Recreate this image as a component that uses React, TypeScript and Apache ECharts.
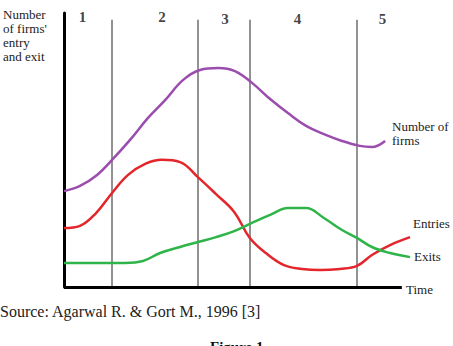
import React, { useEffect, useRef } from "react";
import * as echarts from "echarts";

// Time on a 0–100 scale, level on a 0–100 scale
const numberOfFirms: [number, number][] = [
  [0, 35.0], [4.5, 36.9], [9.3, 40.9], [13.5, 46.4], [18.5, 53.6], [23.6, 61.7],
  [28.4, 68.2], [33.4, 75.5], [38.2, 79.2], [43.3, 79.9], [48.0, 78.8], [52.8, 74.5],
  [57.9, 68.6], [62.9, 63.5], [68.0, 58.8], [73.0, 55.8], [78.1, 53.3], [83.1, 51.5],
  [86.5, 51.1], [90.2, 53.3],
];
const entries: [number, number][] = [
  [0, 21.5], [4.5, 22.3], [9.0, 27.0], [13.5, 34.3], [18.0, 40.9], [22.8, 44.9],
  [27.5, 46.4], [32.6, 45.6], [37.6, 40.1], [42.7, 33.9], [47.8, 27.4], [52.2, 17.9],
  [56.7, 12.4], [61.8, 8.0], [66.9, 6.6], [71.9, 6.2], [77.5, 6.6], [82.3, 7.7],
  [86.5, 11.7], [91.6, 15.3], [97.2, 18.2],
];
const exits: [number, number][] = [
  [0, 8.8], [7.3, 8.8], [17.1, 8.8], [22.2, 9.5], [27.0, 12.4], [32.6, 14.6],
  [37.6, 16.4], [42.7, 18.2], [47.8, 20.4], [52.8, 23.4], [57.9, 26.3], [62.9, 28.8],
  [68.0, 28.8], [73.0, 25.2], [78.1, 20.8], [82.3, 17.9], [86.5, 14.6], [91.6, 12.4],
  [97.2, 10.9],
];
const stageBoundaries = [13.5, 37.6, 52.2, 82.3];
const stageLabels = ["1", "2", "3", "4", "5"];
const stageLabelX = [5.2, 27.5, 45.2, 65.6, 89.5];
const stageLabelY = [98.5, 98.5, 97.8, 97.8, 97.8];
const timeAxisEnd = 94.9;
const boundaryTop = 97.5;

const SERIF = "'Liberation Serif', 'DejaVu Serif', serif";

export default function App() {
  const ref = useRef<HTMLDivElement>(null);

  useEffect(() => {
    if (!ref.current) return;
    const chart = echarts.init(ref.current, null, { renderer: "svg" });

    const curve = (name: string, data: [number, number][], color: string) => ({
      name,
      type: "line",
      data,
      smooth: 0.4,
      showSymbol: false,
      symbol: "none",
      clip: false,
      lineStyle: { color, width: 2.5 },
      z: 5,
    });

    chart.setOption({
      animation: false,
      backgroundColor: "#ffffff",
      grid: { left: 64, top: 13, width: 356, height: 274 },
      xAxis: {
        type: "value",
        min: 0,
        max: 100,
        show: false,
      },
      yAxis: {
        type: "value",
        min: 0,
        max: 100,
        axisLine: { show: true, onZero: false, lineStyle: { color: "#000", width: 3 } },
        axisTick: { show: false },
        axisLabel: { show: false },
        splitLine: { show: false },
      },
      series: [
        {
          name: "frame",
          type: "line",
          data: [],
          markLine: {
            silent: true,
            symbol: "none",
            label: { show: false },
            data: [
              ...stageBoundaries.map((x) => [
                { coord: [x, 0], lineStyle: { color: "#6e6e6e", width: 1.5, type: "solid" } },
                { coord: [x, boundaryTop] },
              ]),
              [
                { coord: [0, 0], lineStyle: { color: "#000", width: 3, type: "solid" } },
                { coord: [timeAxisEnd, 0] },
              ],
            ],
          },
        },
        {
          name: "stages",
          type: "scatter",
          symbolSize: 0,
          data: stageLabels.map((s, i) => ({ name: s, value: [stageLabelX[i], stageLabelY[i]] })),
          label: {
            show: true,
            position: "inside",
            formatter: "{b}",
            fontFamily: SERIF,
            fontWeight: "bold",
            fontSize: 15,
            color: "#111",
          },
          silent: true,
        },
        curve("Number of firms", numberOfFirms, "#9b4dae"),
        curve("Entries", entries, "#e3262b"),
        curve("Exits", exits, "#2fb44a"),
      ],
      graphic: [
        {
          type: "text",
          left: 3,
          top: 7,
          style: {
            text: "Number\nof firms'\nentry\nand exit",
            font: `13px ${SERIF}`,
            lineHeight: 14,
            fill: "#222",
          },
        },
        {
          type: "text",
          left: 392,
          top: 119,
          style: { text: "Number of\nfirms", font: `13px ${SERIF}`, lineHeight: 14, fill: "#222" },
        },
        {
          type: "text",
          left: 413,
          top: 217,
          style: { text: "Entries", font: `13px ${SERIF}`, fill: "#222" },
        },
        {
          type: "text",
          left: 414,
          top: 250,
          style: { text: "Exits", font: `13px ${SERIF}`, fill: "#222" },
        },
        {
          type: "text",
          left: 406,
          top: 283,
          style: { text: "Time", font: `13px ${SERIF}`, fill: "#222" },
        },
        {
          type: "text",
          left: 0,
          top: 303,
          style: { text: "Source: Agarwal R. & Gort M., 1996 [3]", font: `16px ${SERIF}`, fill: "#222" },
        },
        {
          type: "text",
          left: 210,
          top: 339,
          style: { text: "Figure 1", font: `bold 15px ${SERIF}`, fill: "#111" },
        },
      ],
    });

    return () => chart.dispose();
  }, []);

  return (
    <div
      ref={ref}
      style={{ position: "absolute", left: 0, top: 0, width: 453, height: 346, background: "#fff" }}
    />
  );
}
